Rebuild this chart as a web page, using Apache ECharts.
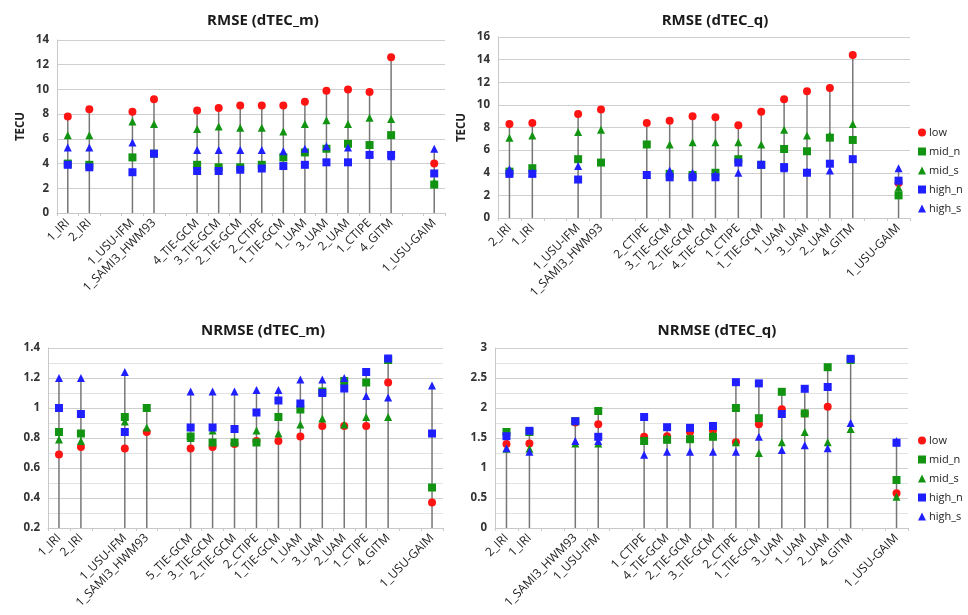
<!DOCTYPE html>
<html>
<head>
<meta charset="utf-8">
<script src="https://cdn.jsdelivr.net/npm/echarts@6/dist/echarts.min.js"></script>
<style>
  html, body { margin: 0; padding: 0; background: #fff; }
  #chart { width: 968px; height: 615px; }
</style>
</head>
<body>
<div id="chart"></div>
<script>
// series names shared by all four panels
const seriesNames = ['low', 'mid_n', 'mid_s', 'high_n', 'high_s']

// RMSE (dTEC_m) - top left
const tlCats = ['1_IRI', '2_IRI', '', '1_USU-IFM', '1_SAMI3_HWM93', '', '4_TIE-GCM', '3_TIE-GCM', '2_TIE-GCM', '2_CTIPE', '1_TIE-GCM', '1_UAM', '3_UAM', '2_UAM', '1_CTIPE', '4_GITM', '', '1_USU-GAIM']
const tlLow   = [7.8, 8.4, null, 8.2, 9.2, null, 8.3, 8.5, 8.7, 8.7, 8.7, 9.0, 9.9, 10.0, 9.8, 12.6, null, 4.0]
const tlMidN  = [4.0, 3.9, null, 4.5, 4.8, null, 3.9, 3.7, 3.7, 3.9, 4.5, 4.9, 5.2, 5.6, 5.5, 6.3, null, 2.3]
const tlMidS  = [6.3, 6.3, null, 7.4, 7.2, null, 6.8, 7.0, 6.9, 6.9, 6.6, 7.2, 7.5, 7.2, 7.7, 7.6, null, 2.5]
const tlHighN = [3.9, 3.7, null, 3.3, 4.8, null, 3.4, 3.4, 3.5, 3.6, 3.8, 3.9, 4.1, 4.1, 4.7, 4.7, null, 3.2]
const tlHighS = [5.3, 5.3, null, 5.7, null, null, 5.1, 5.1, 5.1, 5.1, 5.0, 5.2, 5.4, 5.3, 4.8, 4.6, null, 5.2]

// RMSE (dTEC_q) - top right
const trCats = ['2_IRI', '1_IRI', '', '1_USU-IFM', '1_SAMI3_HWM93', '', '2_CTIPE', '3_TIE-GCM', '2_TIE-GCM', '4_TIE-GCM', '1_CTIPE', '1_TIE-GCM', '1_UAM', '3_UAM', '2_UAM', '4_GITM', '', '1_USU-GAIM']
const trLow   = [8.3, 8.4, null, 9.2, 9.6, null, 8.4, 8.6, 9.0, 8.9, 8.2, 9.4, 10.5, 11.2, 11.5, 14.4, null, 3.1]
const trMidN  = [4.1, 4.4, null, 5.2, 4.9, null, 6.5, 3.9, 3.8, 4.0, 5.2, 4.7, 6.1, 5.9, 7.1, 6.9, null, 2.0]
const trMidS  = [7.1, 7.3, null, 7.6, 7.8, null, null, 6.5, 6.7, 6.7, 6.7, 6.5, 7.8, 7.3, 7.3, 8.3, null, 2.7]
const trHighN = [3.9, 3.9, null, 3.4, null, null, 3.8, 3.6, 3.6, 3.6, 4.9, 4.7, 4.5, 4.0, 4.8, 5.2, null, 3.3]
const trHighS = [4.3, 4.0, null, 4.6, null, null, 3.8, 4.2, 4.0, 3.8, 4.0, 4.8, 4.4, 4.1, 4.2, null, null, 4.4]

// NRMSE (dTEC_m) - bottom left
const blCats = ['1_IRI', '2_IRI', '', '1_USU-IFM', '1_SAMI3_HWM93', '', '5_TIE-GCM', '3_TIE-GCM', '2_TIE-GCM', '2_CTIPE', '1_TIE-GCM', '1_UAM', '3_UAM', '2_UAM', '1_CTIPE', '4_GITM', '', '1_USU-GAIM']
const blLow   = [0.69, 0.74, null, 0.73, 0.84, null, 0.73, 0.74, 0.76, 0.78, 0.78, 0.81, 0.88, 0.88, 0.88, 1.17, null, 0.37]
const blMidN  = [0.84, 0.83, null, 0.94, 1.0, null, 0.81, 0.77, 0.77, 0.77, 0.94, 0.99, 1.11, 1.18, 1.17, 1.32, null, 0.47]
const blMidS  = [0.79, 0.78, null, 0.91, 0.87, null, 0.8, 0.85, 0.78, 0.85, 0.83, 0.89, 0.93, 0.89, 0.94, 0.94, null, null]
const blHighN = [1.0, 0.96, null, 0.84, null, null, 0.87, 0.87, 0.86, 0.97, 1.05, 1.03, 1.1, 1.13, 1.24, 1.33, null, 0.83]
const blHighS = [1.2, 1.2, null, 1.24, null, null, 1.11, 1.11, 1.11, 1.12, 1.12, 1.19, 1.19, 1.2, 1.08, 1.07, null, 1.15]

// NRMSE (dTEC_q) - bottom right
const brCats = ['2_IRI', '1_IRI', '', '1_SAMI3_HWM93', '1_USU-IFM', '', '1_CTIPE', '4_TIE-GCM', '2_TIE-GCM', '3_TIE-GCM', '2_CTIPE', '1_TIE-GCM', '3_UAM', '1_UAM', '2_UAM', '4_GITM', '', '1_USU-GAIM']
const brLow   = [1.4, 1.41, null, 1.76, 1.73, null, 1.52, 1.53, 1.6, 1.63, 1.43, 1.73, 1.98, 1.91, 2.02, null, null, 0.58]
const brMidN  = [1.6, 1.6, null, 1.78, 1.95, null, 1.45, 1.47, 1.48, 1.52, 2.0, 1.83, 2.27, 1.91, 2.68, 2.8, null, 0.8]
const brMidS  = [1.32, 1.32, null, 1.41, 1.41, null, 1.47, 1.5, 1.5, 1.55, 1.43, 1.25, 1.43, 1.6, 1.43, 1.65, null, 0.52]
const brHighN = [1.53, 1.62, null, 1.78, 1.52, null, 1.85, 1.68, 1.67, 1.7, 2.43, 2.41, 1.9, 2.32, 2.35, 2.82, null, 1.42]
const brHighS = [1.33, 1.27, null, 1.45, 1.45, null, 1.22, 1.27, 1.27, 1.27, 1.27, 1.52, 1.3, 1.38, 1.33, 1.75, null, 1.45]

const colors = { low: '#ff1414', mid_n: '#129412', mid_s: '#129412', high_n: '#1f1fff', high_s: '#1f1fff' }
const symbols = { low: 'circle', mid_n: 'rect', mid_s: 'triangle', high_n: 'rect', high_s: 'triangle' }

const panels = [
  { title: 'RMSE (dTEC_m)', cats: tlCats, data: [tlLow, tlMidN, tlMidS, tlHighN, tlHighS], grid: { left: 57, top: 40, width: 388, height: 173 }, y: { min: 0, max: 14, interval: 2 }, yName: 'TECU', tx: 258 },
  { title: 'RMSE (dTEC_q)', cats: trCats, data: [trLow, trMidN, trMidS, trHighN, trHighS], grid: { left: 498, top: 37, width: 412, height: 181 }, y: { min: 0, max: 16, interval: 2 }, yName: 'TECU', tx: 710 },
  { title: 'NRMSE (dTEC_m)', cats: blCats, data: [blLow, blMidN, blMidS, blHighN, blHighS], grid: { left: 48, top: 348, width: 395, height: 180 }, y: { min: 0.2, max: 1.4, interval: 0.2 }, minor: true, tx: 258 },
  { title: 'NRMSE (dTEC_q)', cats: brCats, data: [brLow, brMidN, brMidS, brHighN, brHighS], grid: { left: 495, top: 348, width: 413, height: 180 }, y: { min: 0, max: 3, interval: 0.5 }, minor: true, tx: 712 }
]

const chart = echarts.init(document.getElementById('chart'))

const title = panels.map((p, i) => ({
  text: p.title,
  left: p.tx,
  top: i < 2 ? 8 : 318,
  textAlign: 'center',
  textStyle: { fontSize: 15, fontWeight: 'bold', color: '#1a1a1a', fontFamily: 'Open Sans' }
}))

const grid = panels.map(p => p.grid)

const xAxis = panels.map((p, i) => ({
  type: 'category',
  gridIndex: i,
  data: p.cats,
  axisLine: { lineStyle: { color: '#c8c8c8' } },
  axisTick: { show: true, length: 3, lineStyle: { color: '#c8c8c8' } },
  axisLabel: { interval: 0, rotate: 45, fontSize: 12, color: '#222', margin: 8 }
}))

const yAxis = panels.map((p, i) => ({
  type: 'value',
  gridIndex: i,
  min: p.y.min,
  max: p.y.max,
  interval: p.y.interval,
  name: p.yName || '',
  nameLocation: 'middle',
  nameGap: 30,
  nameTextStyle: { fontSize: 11.5, fontWeight: 'bold', color: '#222' },
  axisLine: { show: true, lineStyle: { color: '#c8c8c8' } },
  axisTick: { show: false },
  axisLabel: { fontSize: 11.5, fontWeight: 'bold', color: '#333' },
  splitLine: { lineStyle: { color: '#cfcfcf' } },
  minorTick: { show: false, splitNumber: 2 },
  minorSplitLine: { show: !!p.minor, lineStyle: { color: '#e2e2e2' } }
}))

const series = []
panels.forEach((p, i) => {
  // drop line from the axis up to the highest marker of each model
  const tops = p.cats.map((c, k) => {
    const vals = p.data.map(d => d[k]).filter(v => v != null)
    return vals.length ? Math.max(...vals) : null
  })
  series.push({
    type: 'bar',
    name: 'drop',
    xAxisIndex: i,
    yAxisIndex: i,
    data: tops,
    barWidth: 1.5,
    silent: true,
    itemStyle: { color: '#777' },
    z: 1
  })
  seriesNames.forEach((n, s) => {
    series.push({
      type: 'scatter',
      name: n,
      xAxisIndex: i,
      yAxisIndex: i,
      data: p.data[s],
      symbol: symbols[n],
      symbolSize: 8,
      itemStyle: { color: colors[n], opacity: 1 },
      z: 3
    })
  })
})

const legendBase = {
  data: seriesNames,
  orient: 'vertical',
  left: 913,
  itemWidth: 8,
  itemHeight: 8,
  itemGap: 8,
  textStyle: { fontSize: 11, color: '#222', padding: [0, 0, 0, -2] }
}

chart.setOption({
  animation: false,
  backgroundColor: '#fff',
  textStyle: { fontFamily: 'Open Sans' },
  title,
  legend: [
    Object.assign({}, legendBase, { top: 122 }),
    Object.assign({}, legendBase, { top: 430 })
  ],
  grid,
  xAxis,
  yAxis,
  series
})
</script>
</body>
</html>
